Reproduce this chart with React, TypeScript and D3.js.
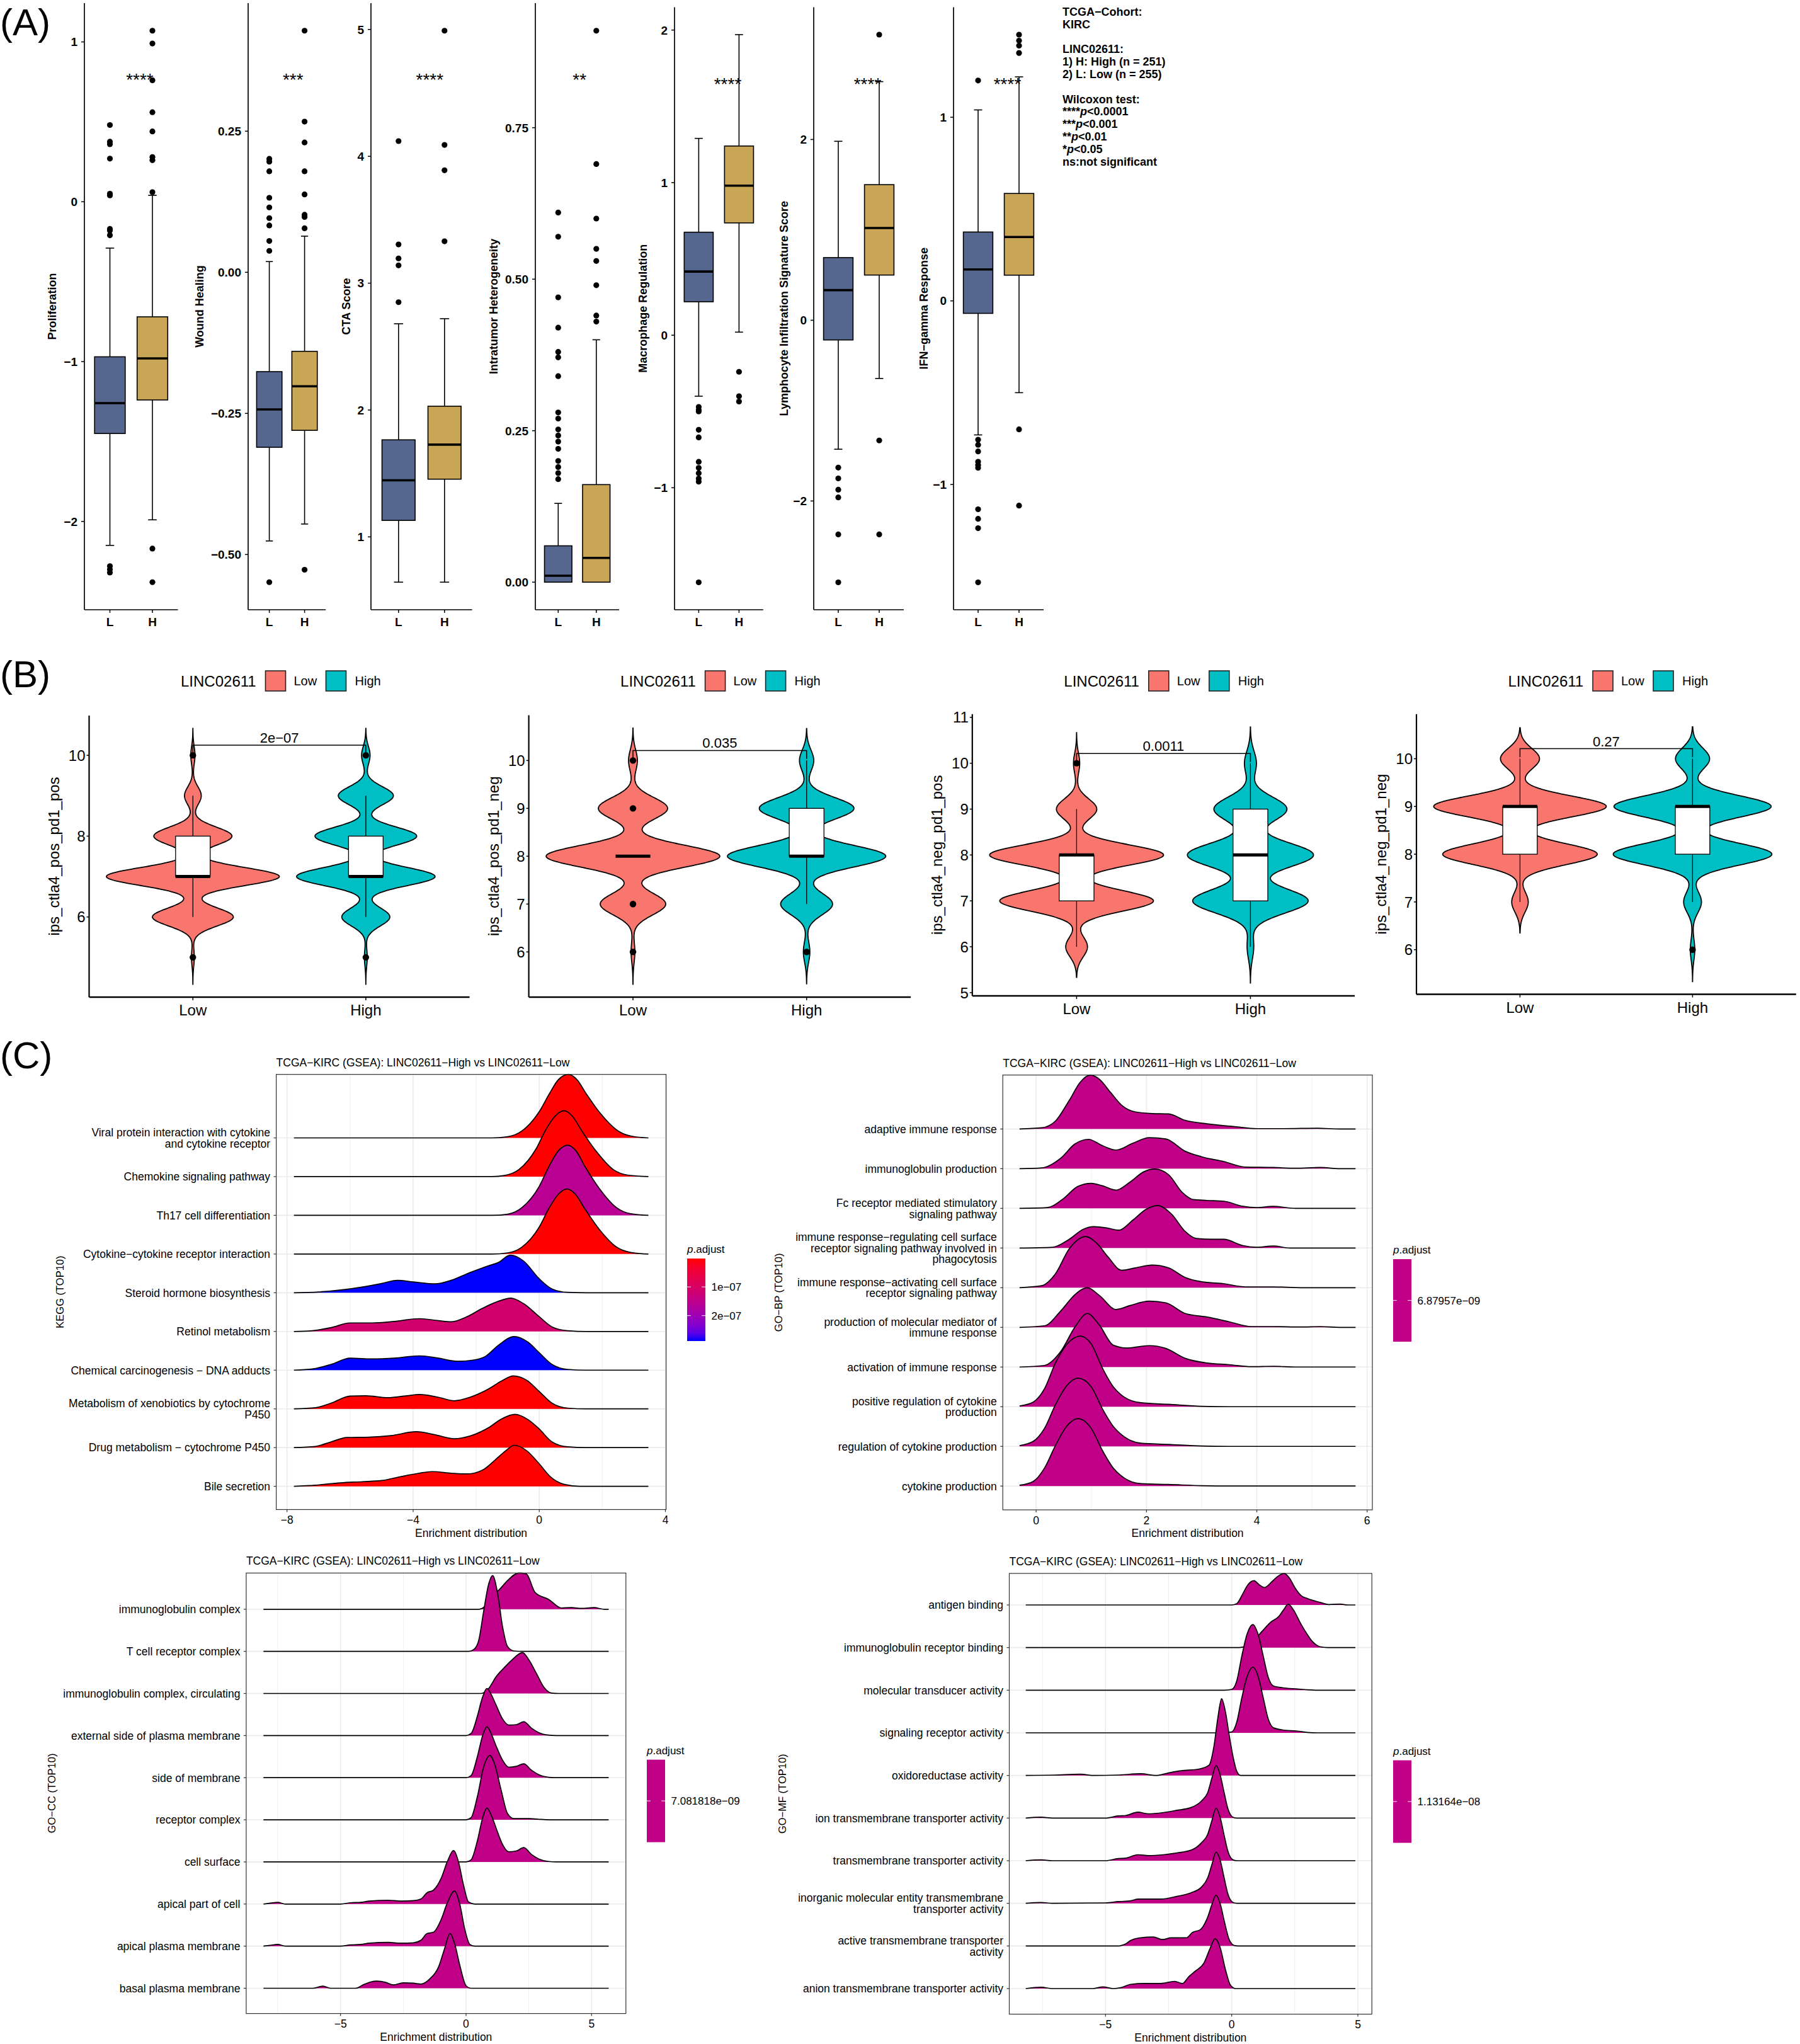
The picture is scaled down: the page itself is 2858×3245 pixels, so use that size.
import React from 'react';
import * as d3 from 'd3';

const FONT = "'Liberation Sans', Arial, Helvetica, sans-serif";
const MINUS = '\u2212';
const minus = (s: string) => s.replace(/-/g, MINUS);

// ---------------- (A) immune signature boxplots ----------------
const A_GROUPS = ['L', 'H'];
const A_TITLES = [
  'Proliferation',
  'Wound Healing',
  'CTA Score',
  'Intratumor Heterogeneity',
  'Macrophage Regulation',
  'Lymphocyte Infiltration Signature Score',
  'IFN-gamma Response',
];
const A_TICKS = [
  [1, 0, -1, -2],
  [0.25, 0, -0.25, -0.5],
  [5, 4, 3, 2, 1],
  [0.75, 0.5, 0.25, 0],
  [2, 1, 0, -1],
  [2, 0, -2],
  [1, 0, -1],
];
const A_TICK_FMT = ['d', '.2f', 'd', '.2f', 'd', 'd', 'd'];
const A_STARS = ['****', '***', '****', '**', '****', '****', '****'];
// whisker low, Q1, median, Q3, whisker high
const A_LOW_BOX = [
  [-2.15, -1.45, -1.26, -0.97, -0.29],
  [-0.476, -0.31, -0.243, -0.176, 0.019],
  [0.643, 1.13, 1.446, 1.765, 2.68],
  [0, 0, 0.0106, 0.06, 0.13],
  [-0.4, 0.219, 0.417, 0.675, 1.29],
  [-1.427, -0.218, 0.333, 0.693, 1.98],
  [-0.73, -0.068, 0.171, 0.375, 1.04],
];
const A_HIGH_BOX = [
  [-1.99, -1.24, -0.98, -0.72, 0.04],
  [-0.446, -0.28, -0.202, -0.14, 0.064],
  [0.643, 1.455, 1.727, 2.03, 2.72],
  [0, 0, 0.04, 0.161, 0.4],
  [0.02, 0.736, 0.98, 1.24, 1.97],
  [-0.644, 0.5, 1.02, 1.5, 2.64],
  [-0.5, 0.14, 0.348, 0.585, 1.22],
];
const A_LOW_OUT = [
  [0.48, 0.376, 0.36, 0.27, 0.05, 0.04, -0.17, -0.18, -0.21, -2.28, -2.3, -2.32],
  [0.201, 0.196, 0.179, 0.132, 0.115, 0.096, 0.083, 0.0555, 0.038, -0.549],
  [4.12, 3.305, 3.195, 3.14, 2.85],
  [0.61, 0.57, 0.47, 0.42, 0.38, 0.371, 0.34, 0.28, 0.27, 0.252, 0.242, 0.232, 0.22, 0.2, 0.19, 0.18, 0.17],
  [-0.47, -0.49, -0.5, -0.62, -0.67, -0.83, -0.87, -0.905, -0.94, -0.96, -1.62],
  [-1.63, -1.75, -1.875, -1.96, -2.37, -2.9],
  [1.2, -0.756, -0.784, -0.82, -0.876, -0.894, -0.909, -1.135, -1.187, -1.238, -1.533],
];
const A_HIGH_OUT = [
  [1.07, 0.99, 0.76, 0.56, 0.44, 0.28, 0.26, 0.06, -2.17, -2.38],
  [0.428, 0.267, 0.23, 0.179, 0.138, 0.102, 0.098, 0.078, -0.527],
  [4.99, 4.09, 3.89, 3.33],
  [0.91, 0.69, 0.6, 0.55, 0.53, 0.49, 0.44, 0.43],
  [-0.24, -0.4, -0.435],
  [3.16, -1.33, -2.37],
  [1.45, 1.417, 1.39, 1.35, -0.7, -1.115],
];
const A_NOTE = ['TCGA-Cohort:', 'KIRC', '', 'LINC02611:', '1) H: High (n = 251)', '2) L: Low (n = 255)', '', 'Wilcoxon test:'];
const A_SIG = [['****', '0.0001'], ['***', '0.001'], ['**', '0.01'], ['*', '0.05']];

// layout of (A)
const A_AXIS_X = [134, 394, 589, 850, 1071, 1292, 1514];
const A_STEP = [67.5, 56, 73, 60.5, 64, 65, 65];
const A_TOP = [5, 5, 5, 5, 11.5, 11.5, 11.5];
const A_BOTTOM = 968;
const A_TITLE_GAP = [51, 77, 39, 66, 50, 47, 47];
const A_FILL: Record<string, string> = { L: '#55678F', H: '#C8A655' };

// ---------------- (B) IPS violins ----------------
const B_GROUPS = ['Low', 'High'];
const B_SCORES = [5, 6, 7, 8, 9, 10];
const B_LOW_COUNTS = [
  [2, 58, 124, 56, 12, 3],
  [0, 3, 52, 138, 55, 7],
  [0, 14, 99, 112, 26, 4],
  [0, 0, 11, 103, 115, 26],
];
const B_HIGH_COUNTS = [
  [2, 34, 98, 72, 39, 6],
  [0, 5, 40, 122, 73, 11],
  [0, 5, 87, 95, 55, 9],
  [0, 3, 12, 107, 106, 23],
];
const B_TITLES = ['ips_ctla4_pos_pd1_pos', 'ips_ctla4_pos_pd1_neg', 'ips_ctla4_neg_pd1_pos', 'ips_ctla4_neg_pd1_neg'];
const B_TICKS = [[6, 8, 10], [6, 7, 8, 9, 10], [5, 6, 7, 8, 9, 10, 11], [6, 7, 8, 9, 10]];
const B_PVAL = ['2e-07', '0.035', '0.0011', '0.27'];
const B_BRACKET = [10.25, 10.21, 10.21, 10.21];

const B_AXIS_X = [141.5, 839.6, 1543.8, 2249];
const B_STEP = [274.6, 275.7, 276, 274];
const B_TOP = [1136, 1135.6, 1133.7, 1133.7];
const B_BOTTOM = [1583, 1583, 1581, 1578.5];
const B_FILL: Record<string, string> = { Low: '#F8766D', High: '#00BFC4' };

// ---------------- (C) GSEA ridge plots ----------------
type Pt = [number, number];

const KEGG_TERMS = [
  'Viral protein interaction with cytokine\nand cytokine receptor',
  'Chemokine signaling pathway',
  'Th17 cell differentiation',
  'Cytokine-cytokine receptor interaction',
  'Steroid hormone biosynthesis',
  'Retinol metabolism',
  'Chemical carcinogenesis - DNA adducts',
  'Metabolism of xenobiotics by cytochrome\nP450',
  'Drug metabolism - cytochrome P450',
  'Bile secretion',
];
const KEGG_P = [1e-9, 1e-9, 1.59e-7, 1e-9, 2.886e-7, 1.1e-7, 2.886e-7, 1e-9, 1e-9, 1e-9];
const KEGG_RANGE = [-7.78, 3.46];
const KEGG_RIDGES: Pt[][] = [
  [[-1.5, 0], [-1.0, 0.03], [-0.55, 0.18], [0, 0.68], [0.32, 1.14], [0.6, 1.5], [0.93, 1.64], [1.2, 1.5], [1.49, 1.14], [1.93, 0.64], [2.5, 0.18], [2.95, 0.04], [3.46, 0]],
  [[-1.5, 0], [-1.1, 0.03], [-0.65, 0.18], [-0.1, 0.72], [0.2, 1.2], [0.5, 1.56], [0.79, 1.7], [1.05, 1.56], [1.35, 1.18], [1.8, 0.66], [2.35, 0.18], [2.8, 0.04], [3.46, 0]],
  [[-1.5, 0], [-1.0, 0.03], [-0.55, 0.2], [0, 0.75], [0.3, 1.25], [0.6, 1.66], [0.9, 1.81], [1.17, 1.66], [1.45, 1.26], [1.9, 0.7], [2.45, 0.2], [2.9, 0.04], [3.46, 0]],
  [[-1.5, 0], [-1.0, 0.03], [-0.55, 0.18], [0, 0.7], [0.3, 1.17], [0.6, 1.54], [0.88, 1.68], [1.15, 1.54], [1.45, 1.16], [1.9, 0.64], [2.45, 0.18], [2.9, 0.04], [3.46, 0]],
  [[-7.78, 0], [-7, 0.02], [-6.2, 0.08], [-5.6, 0.15], [-5, 0.24], [-4.5, 0.32], [-4, 0.28], [-3.3, 0.23], [-2.8, 0.32], [-2.2, 0.52], [-1.6, 0.7], [-1.3, 0.78], [-0.92, 0.97], [-0.5, 0.82], [0, 0.36], [0.4, 0.1], [0.9, 0.01], [1.5, 0]],
  [[-7.78, 0], [-7.2, 0.02], [-6.6, 0.1], [-6, 0.22], [-5.3, 0.22], [-4.6, 0.26], [-3.8, 0.33], [-3.2, 0.28], [-2.8, 0.25], [-2.3, 0.38], [-1.8, 0.6], [-1.3, 0.78], [-0.9, 0.86], [-0.5, 0.72], [0, 0.38], [0.4, 0.12], [0.9, 0.02], [1.5, 0]],
  [[-7.78, 0], [-7.2, 0.03], [-6.6, 0.15], [-6, 0.31], [-5.3, 0.29], [-4.6, 0.31], [-3.8, 0.37], [-3.2, 0.31], [-2.6, 0.23], [-2.1, 0.26], [-1.7, 0.36], [-1.3, 0.64], [-0.8, 0.87], [-0.35, 0.72], [0, 0.45], [0.4, 0.15], [0.9, 0.02], [1.5, 0]],
  [[-7.78, 0], [-7.1, 0.03], [-6.6, 0.15], [-6, 0.33], [-5.5, 0.34], [-4.8, 0.29], [-4.2, 0.34], [-3.8, 0.37], [-3.2, 0.3], [-2.7, 0.21], [-2.2, 0.3], [-1.6, 0.52], [-1.2, 0.72], [-0.82, 0.85], [-0.4, 0.74], [0, 0.45], [0.4, 0.15], [0.9, 0.02], [1.5, 0]],
  [[-7.78, 0], [-7.1, 0.03], [-6.6, 0.15], [-6.1, 0.26], [-5.4, 0.27], [-4.7, 0.31], [-3.9, 0.41], [-3.3, 0.33], [-2.7, 0.23], [-2.2, 0.3], [-1.6, 0.52], [-1.2, 0.74], [-0.77, 0.86], [-0.35, 0.72], [0, 0.48], [0.4, 0.15], [0.9, 0.02], [1.5, 0]],
  [[-7.78, 0], [-7.1, 0.03], [-6.3, 0.09], [-5.6, 0.12], [-5, 0.15], [-4.4, 0.25], [-3.8, 0.34], [-3.4, 0.38], [-2.8, 0.34], [-2.3, 0.32], [-1.8, 0.42], [-1.4, 0.68], [-1.0, 0.96], [-0.8, 1.06], [-0.4, 0.92], [0, 0.58], [0.35, 0.25], [0.8, 0.05], [1.3, 0]],
];

const BP_TERMS = [
  'adaptive immune response',
  'immunoglobulin production',
  'Fc receptor mediated stimulatory\nsignaling pathway',
  'immune response-regulating cell surface\nreceptor signaling pathway involved in\nphagocytosis',
  'immune response-activating cell surface\nreceptor signaling pathway',
  'production of molecular mediator of\nimmune response',
  'activation of immune response',
  'positive regulation of cytokine\nproduction',
  'regulation of cytokine production',
  'cytokine production',
];
const BP_P = [6.87957e-9];
const BP_RANGE = [-0.3, 5.79];
const BP_RIDGES: Pt[][] = [
  [[-0.3, 0], [0.1, 0.03], [0.35, 0.2], [0.6, 0.72], [0.8, 1.18], [0.98, 1.36], [1.15, 1.25], [1.35, 0.92], [1.55, 0.6], [1.8, 0.43], [2.1, 0.39], [2.4, 0.38], [2.7, 0.22], [3.1, 0.13], [3.6, 0.06], [4.0, 0.01], [4.5, 0.01], [5.1, 0.02], [5.5, 0]],
  [[-0.3, 0], [0.1, 0.02], [0.45, 0.27], [0.7, 0.62], [0.95, 0.74], [1.2, 0.58], [1.45, 0.47], [1.75, 0.64], [2.05, 0.78], [2.35, 0.75], [2.7, 0.44], [3.0, 0.3], [3.4, 0.18], [3.8, 0.04], [4.3, 0.03], [4.7, 0.01], [5.15, 0.03], [5.5, 0]],
  [[-0.3, 0], [0.2, 0.02], [0.5, 0.25], [0.75, 0.55], [1.0, 0.63], [1.2, 0.57], [1.45, 0.46], [1.7, 0.66], [1.95, 0.92], [2.15, 0.99], [2.4, 0.85], [2.65, 0.4], [2.85, 0.22], [3.1, 0.2], [3.4, 0.18], [3.75, 0.05], [4.0, 0.02], [4.3, 0.05], [4.7, 0]],
  [[-0.3, 0], [0.3, 0.02], [0.6, 0.22], [0.85, 0.47], [1.05, 0.54], [1.3, 0.5], [1.5, 0.45], [1.75, 0.7], [2.0, 0.98], [2.2, 1.07], [2.45, 0.86], [2.7, 0.42], [2.9, 0.24], [3.2, 0.22], [3.4, 0.22], [3.75, 0.06], [4.0, 0.02], [4.3, 0.05], [4.6, 0]],
  [[-0.3, 0], [0.1, 0.05], [0.35, 0.35], [0.6, 0.98], [0.9, 1.29], [1.1, 1.12], [1.3, 0.78], [1.55, 0.44], [1.8, 0.5], [2.1, 0.57], [2.4, 0.5], [2.7, 0.26], [3.0, 0.15], [3.4, 0.1], [3.8, 0.02], [4.3, 0.02], [4.8, 0]],
  [[-0.3, 0], [0.15, 0.04], [0.45, 0.42], [0.7, 0.82], [0.93, 1.0], [1.15, 0.8], [1.45, 0.45], [1.7, 0.55], [2.05, 0.66], [2.35, 0.62], [2.7, 0.35], [3.1, 0.26], [3.5, 0.14], [3.9, 0.02], [4.3, 0.02], [4.8, 0.01], [5.15, 0.02], [5.5, 0]],
  [[-0.3, 0], [0.15, 0.04], [0.45, 0.4], [0.7, 1.0], [0.93, 1.35], [1.15, 1.05], [1.4, 0.55], [1.65, 0.48], [2.05, 0.54], [2.35, 0.47], [2.7, 0.22], [3.1, 0.1], [3.5, 0.06], [3.9, 0.01], [4.3, 0.02], [4.7, 0]],
  [[-0.3, 0.02], [-0.05, 0.12], [0.15, 0.45], [0.35, 1.1], [0.55, 1.56], [0.8, 1.78], [1.0, 1.58], [1.2, 0.98], [1.4, 0.5], [1.6, 0.24], [1.9, 0.1], [2.4, 0.06], [3.0, 0.01], [3.5, 0]],
  [[-0.3, 0.02], [-0.05, 0.13], [0.15, 0.45], [0.35, 1.05], [0.55, 1.52], [0.76, 1.72], [1.0, 1.5], [1.2, 0.95], [1.4, 0.5], [1.6, 0.24], [1.9, 0.08], [2.4, 0.05], [3.0, 0.01], [3.5, 0]],
  [[-0.3, 0.02], [-0.05, 0.12], [0.15, 0.45], [0.35, 1.02], [0.55, 1.5], [0.76, 1.7], [1.0, 1.45], [1.2, 0.9], [1.4, 0.45], [1.6, 0.2], [1.9, 0.06], [2.4, 0.04], [3.0, 0.01], [3.5, 0]],
];

const CC_TERMS = [
  'immunoglobulin complex',
  'T cell receptor complex',
  'immunoglobulin complex, circulating',
  'external side of plasma membrane',
  'side of membrane',
  'receptor complex',
  'cell surface',
  'apical part of cell',
  'apical plasma membrane',
  'basal plasma membrane',
];
const CC_P = [7.081818e-9];
const CC_RANGE = [-8.07, 5.68];
const CC_RIDGES: Pt[][] = [
  [[0.5, 0], [0.8, 0.1], [1.0, 0.3], [1.3, 0.45], [1.65, 0.68], [2.1, 0.86], [2.4, 0.84], [2.75, 0.4], [3.3, 0.23], [3.8, 0.03], [4.2, 0.04], [4.6, 0.02], [5.1, 0.04], [5.5, 0]],
  [[0.1, 0], [0.3, 0.04], [0.5, 0.25], [0.7, 0.95], [0.9, 1.6], [1.06, 1.8], [1.25, 1.4], [1.45, 0.6], [1.65, 0.12], [1.9, 0.01], [2.2, 0]],
  [[0.6, 0], [0.9, 0.12], [1.2, 0.4], [1.5, 0.6], [1.8, 0.78], [2.25, 0.97], [2.5, 0.8], [2.8, 0.48], [3.1, 0.15], [3.4, 0.01], [3.7, 0]],
  [[0, 0], [0.2, 0.05], [0.45, 0.46], [0.65, 0.9], [0.83, 1.12], [1.0, 0.98], [1.2, 0.72], [1.45, 0.4], [1.7, 0.25], [2.0, 0.26], [2.3, 0.33], [2.6, 0.18], [2.9, 0.07], [3.3, 0.01], [3.6, 0]],
  [[0, 0], [0.2, 0.05], [0.45, 0.5], [0.65, 0.98], [0.83, 1.21], [1.0, 1.05], [1.2, 0.75], [1.45, 0.42], [1.7, 0.25], [2.0, 0.27], [2.3, 0.33], [2.6, 0.18], [2.9, 0.07], [3.3, 0.01], [3.6, 0]],
  [[0, 0], [0.2, 0.05], [0.45, 0.55], [0.7, 1.25], [0.95, 1.53], [1.15, 1.3], [1.4, 0.7], [1.65, 0.15], [1.9, 0.03], [2.5, 0.03], [3.0, 0.01], [3.4, 0]],
  [[0, 0], [0.2, 0.05], [0.45, 0.5], [0.65, 1.02], [0.83, 1.28], [1.0, 1.12], [1.2, 0.8], [1.45, 0.42], [1.7, 0.24], [2.0, 0.26], [2.3, 0.34], [2.6, 0.18], [2.9, 0.07], [3.3, 0.01], [3.6, 0]],
  [[-8.07, 0], [-7.8, 0.02], [-7.5, 0.04], [-7.2, 0], [-5, 0], [-4.6, 0.03], [-4.2, 0.04], [-3.85, 0.07], [-3.1, 0.09], [-2.6, 0.07], [-2.1, 0.08], [-1.8, 0.12], [-1.55, 0.27], [-1.3, 0.33], [-1.0, 0.6], [-0.75, 1.0], [-0.5, 1.27], [-0.3, 1.0], [-0.1, 0.45], [0.1, 0.05], [0.35, 0]],
  [[-8.07, 0], [-7.8, 0.02], [-7.5, 0.04], [-7.2, 0], [-5, 0], [-4.6, 0.03], [-4.2, 0.04], [-3.85, 0.07], [-3.1, 0.09], [-2.6, 0.07], [-2.1, 0.08], [-1.8, 0.14], [-1.55, 0.3], [-1.3, 0.33], [-1.0, 0.62], [-0.75, 1.02], [-0.46, 1.31], [-0.25, 1.0], [-0.05, 0.4], [0.15, 0.04], [0.35, 0]],
  [[-8.07, 0], [-6.1, 0], [-5.7, 0.05], [-5.4, 0], [-4.4, 0], [-4.1, 0.08], [-3.8, 0.15], [-3.55, 0.17], [-3.2, 0.14], [-2.9, 0.08], [-2.5, 0.13], [-2.1, 0.12], [-1.8, 0.1], [-1.45, 0.22], [-1.1, 0.5], [-0.85, 0.95], [-0.64, 1.3], [-0.45, 1.05], [-0.25, 0.55], [0, 0.06], [0.2, 0]],
];

const MF_TERMS = [
  'antigen binding',
  'immunoglobulin receptor binding',
  'molecular transducer activity',
  'signaling receptor activity',
  'oxidoreductase activity',
  'ion transmembrane transporter activity',
  'transmembrane transporter activity',
  'inorganic molecular entity transmembrane\ntransporter activity',
  'active transmembrane transporter\nactivity',
  'anion transmembrane transporter activity',
];
const MF_P = [1.13164e-8];
const MF_RANGE = [-8.16, 4.9];
const MF_RIDGES: Pt[][] = [
  [[0, 0], [0.2, 0.03], [0.4, 0.22], [0.65, 0.48], [0.88, 0.57], [1.1, 0.47], [1.3, 0.41], [1.6, 0.55], [1.8, 0.66], [2.08, 0.74], [2.3, 0.62], [2.5, 0.41], [2.75, 0.22], [3.0, 0.15], [3.5, 0.06], [3.85, 0.01], [4.3, 0.02], [4.6, 0]],
  [[0.3, 0], [0.6, 0.05], [0.9, 0.18], [1.2, 0.38], [1.55, 0.6], [1.85, 0.72], [2.05, 0.88], [2.24, 1.02], [2.45, 0.88], [2.7, 0.6], [2.95, 0.35], [3.2, 0.14], [3.5, 0.02], [3.8, 0]],
  [[-0.3, 0], [0, 0.02], [0.2, 0.22], [0.4, 0.8], [0.6, 1.3], [0.84, 1.54], [1.05, 1.3], [1.25, 0.8], [1.45, 0.3], [1.65, 0.1], [2.0, 0.06], [2.6, 0.03], [3.0, 0.01], [3.4, 0]],
  [[-0.3, 0], [0, 0.02], [0.2, 0.25], [0.4, 0.82], [0.6, 1.3], [0.84, 1.54], [1.05, 1.32], [1.25, 0.82], [1.45, 0.32], [1.65, 0.12], [2.0, 0.07], [2.6, 0.04], [3.0, 0.01], [3.4, 0]],
  [[-8.16, 0], [-7, 0.01], [-6.0, 0.03], [-5.5, 0], [-4.5, 0.01], [-3.6, 0.04], [-3.0, 0], [-2.5, 0.06], [-2.0, 0.11], [-1.3, 0.15], [-0.9, 0.24], [-0.7, 0.7], [-0.55, 1.35], [-0.4, 1.8], [-0.25, 1.5], [-0.1, 0.95], [0.05, 0.45], [0.2, 0.1], [0.35, 0]],
  [[-8.16, 0], [-7.55, 0.02], [-7.1, 0], [-5.0, 0], [-4.5, 0.05], [-4.2, 0.06], [-3.72, 0.14], [-3.3, 0.1], [-2.7, 0.13], [-2.2, 0.18], [-1.6, 0.25], [-1.2, 0.4], [-0.95, 0.6], [-0.78, 0.95], [-0.62, 1.23], [-0.45, 1.0], [-0.3, 0.6], [-0.15, 0.22], [0.05, 0.02], [0.2, 0]],
  [[-8.16, 0], [-7.55, 0.02], [-7.1, 0], [-5.0, 0], [-4.5, 0.05], [-4.2, 0.06], [-3.72, 0.14], [-3.3, 0.12], [-2.7, 0.14], [-2.2, 0.18], [-1.6, 0.25], [-1.2, 0.42], [-0.95, 0.62], [-0.78, 0.95], [-0.62, 1.23], [-0.45, 1.0], [-0.3, 0.6], [-0.15, 0.22], [0.05, 0.02], [0.2, 0]],
  [[-8.16, 0], [-7.55, 0.02], [-7.1, 0], [-5.0, 0.01], [-4.5, 0.04], [-4.0, 0.06], [-3.7, 0.1], [-3.3, 0.1], [-2.8, 0.1], [-2.2, 0.16], [-1.6, 0.25], [-1.2, 0.38], [-0.95, 0.6], [-0.78, 0.92], [-0.62, 1.2], [-0.45, 1.0], [-0.3, 0.6], [-0.15, 0.22], [0.05, 0.02], [0.2, 0]],
  [[-8.16, 0], [-4.5, 0], [-4.2, 0.05], [-4.0, 0.13], [-3.65, 0.19], [-3.1, 0.21], [-2.75, 0.15], [-2.4, 0.19], [-1.8, 0.19], [-1.55, 0.32], [-1.25, 0.38], [-0.95, 0.68], [-0.78, 0.98], [-0.62, 1.19], [-0.45, 0.98], [-0.3, 0.6], [-0.1, 0.15], [0.1, 0.01], [0.25, 0]],
  [[-8.16, 0], [-7.55, 0.03], [-7.1, 0], [-5.5, 0], [-5.1, 0.04], [-4.7, 0], [-4.4, 0.02], [-4.0, 0.1], [-3.45, 0.12], [-2.8, 0.12], [-2.26, 0.17], [-1.95, 0.12], [-1.7, 0.28], [-1.44, 0.41], [-1.1, 0.6], [-0.85, 0.95], [-0.66, 1.17], [-0.45, 0.95], [-0.25, 0.45], [-0.05, 0.08], [0.15, 0]],
];

const C_TITLE = 'TCGA-KIRC (GSEA): LINC02611-High vs LINC02611-Low';

const C_SPECS = [
  { id: 'kegg', terms: KEGG_TERMS, pvals: KEGG_P, ridges: KEGG_RIDGES, range: KEGG_RANGE, major: [-8, -4, 0, 4], minor: [-6, -2, 2], yTitle: 'KEGG (TOP10)',
    box: { left: 438.6, right: 1057.6, top: 1705.7, bottom: 2396.5 }, yTitleX: 95, legendX: 1091, legendTop: 1998 },
  { id: 'bp', terms: BP_TERMS, pvals: BP_P, ridges: BP_RIDGES, range: BP_RANGE, major: [0, 2, 4, 6], minor: [1, 3, 5], yTitle: 'GO-BP (TOP10)',
    box: { left: 1592.2, right: 2179, top: 1706.7, bottom: 2397 }, yTitleX: 1236, legendX: 2212, legendTop: 1999 },
  { id: 'cc', terms: CC_TERMS, pvals: CC_P, ridges: CC_RIDGES, range: CC_RANGE, major: [-5, 0, 5], minor: [-7.5, -2.5, 2.5], yTitle: 'GO-CC (TOP10)',
    box: { left: 390.9, right: 993.8, top: 2497.3, bottom: 3196.6 }, yTitleX: 82, legendX: 1027, legendTop: 2793.6 },
  { id: 'mf', terms: MF_TERMS, pvals: MF_P, ridges: MF_RIDGES, range: MF_RANGE, major: [-5, 0, 5], minor: [-7.5, -2.5, 2.5], yTitle: 'GO-MF (TOP10)',
    box: { left: 1602.5, right: 2178.2, top: 2497.9, bottom: 3197.6 }, yTitleX: 1241.7, legendX: 2212, legendTop: 2794.6 },
];

// ---------------- helpers ----------------
function pFmt(v: number) {
  const s = d3.format('.6~e')(v);
  const m = s.match(/^(.*)e([+\-\u2212])(\d+)$/);
  if (!m) return s;
  const sign = m[2] === '+' ? '+' : MINUS;
  return `${m[1]}e${sign}${m[3].padStart(2, '0')}`;
}

function nrd0(sorted: number[]) {
  const n = sorted.length;
  const sd = d3.deviation(sorted) || 0;
  const iqr = (d3.quantileSorted(sorted, 0.75) as number) - (d3.quantileSorted(sorted, 0.25) as number);
  let lo = Math.min(sd, iqr / 1.34);
  if (!(lo > 0)) lo = sd || Math.abs(sorted[0]) || 1;
  return 0.9 * lo * Math.pow(n, -0.2);
}

// ---------------- (A) component ----------------
function BoxPlotA({ i }: { i: number }) {
  const x0 = A_AXIS_X[i];
  const step = A_STEP[i];
  const top = A_TOP[i];
  const width = 2.2 * step;
  const x = d3.scalePoint<string>().domain(A_GROUPS).range([x0, x0 + width]).padding(0.6);
  const boxes = [A_LOW_BOX[i], A_HIGH_BOX[i]];
  const outs = [A_LOW_OUT[i], A_HIGH_OUT[i]];
  const [lo, hi] = d3.extent([...boxes.flat(), ...outs.flat()]) as [number, number];
  const pad = (hi - lo) * 0.05;
  const y = d3.scaleLinear().domain([lo - pad, hi + pad]).range([A_BOTTOM, top]);
  const fmt = d3.format(A_TICK_FMT[i]);
  const bw = step * 0.72;
  const cap = step * 0.2;
  const midY = (top + A_BOTTOM) / 2;
  const tx = x0 - A_TITLE_GAP[i];
  return (
    <g>
      <line x1={x0} x2={x0} y1={top} y2={A_BOTTOM} stroke="#000" strokeWidth={1.7} />
      <line x1={x0} x2={x0 + width} y1={A_BOTTOM} y2={A_BOTTOM} stroke="#000" strokeWidth={1.7} />
      {A_TICKS[i].map((t) => (
        <g key={t}>
          <line x1={x0 - 5} x2={x0} y1={y(t)} y2={y(t)} stroke="#000" strokeWidth={1.5} />
          <text x={x0 - 11} y={y(t)} dy="0.36em" textAnchor="end" fontSize={19} fontWeight="bold">
            {minus(fmt(t))}
          </text>
        </g>
      ))}
      {A_GROUPS.map((g) => (
        <g key={g}>
          <line x1={x(g)} x2={x(g)} y1={A_BOTTOM} y2={A_BOTTOM + 5} stroke="#000" strokeWidth={1.5} />
          <text x={x(g)} y={A_BOTTOM + 26} textAnchor="middle" fontSize={19} fontWeight="bold">{g}</text>
        </g>
      ))}
      <text transform={`translate(${tx},${midY}) rotate(-90)`} dy="0.36em" textAnchor="middle" fontSize={18} fontWeight="bold">
        {minus(A_TITLES[i])}
      </text>
      {A_GROUPS.map((g, k) => {
        const [wl, q1, md, q3, wh] = boxes[k];
        const cx = x(g) as number;
        return (
          <g key={g}>
            <line x1={cx} x2={cx} y1={y(q3)} y2={y(wh)} stroke="#000" strokeWidth={1.6} />
            <line x1={cx} x2={cx} y1={y(q1)} y2={y(wl)} stroke="#000" strokeWidth={1.6} />
            <line x1={cx - cap / 2} x2={cx + cap / 2} y1={y(wh)} y2={y(wh)} stroke="#000" strokeWidth={1.6} />
            <line x1={cx - cap / 2} x2={cx + cap / 2} y1={y(wl)} y2={y(wl)} stroke="#000" strokeWidth={1.6} />
            <rect x={cx - bw / 2} y={y(q3)} width={bw} height={Math.max(0.5, y(q1) - y(q3))} fill={A_FILL[g]} stroke="#000" strokeWidth={1.6} />
            <line x1={cx - bw / 2} x2={cx + bw / 2} y1={y(md)} y2={y(md)} stroke="#000" strokeWidth={3.6} />
            {outs[k].map((v, j) => (
              <circle key={j} cx={cx} cy={y(v)} r={4.6} fill="#000" />
            ))}
          </g>
        );
      })}
      <text x={(x('L') as number) + 0.38 * step} y={top + 131} fontSize={28}>{A_STARS[i]}</text>
    </g>
  );
}

function NoteA() {
  const x = 1687;
  const y0 = 25;
  const lh = 19.8;
  return (
    <g fontSize={18} fontWeight="bold">
      {A_NOTE.map((s, k) => (s ? <text key={k} x={x} y={y0 + k * lh}>{minus(s)}</text> : null))}
      {A_SIG.map(([st, v], k) => (
        <text key={`s${k}`} x={x} y={y0 + (A_NOTE.length + k) * lh}>
          {st}
          <tspan fontStyle="italic">p</tspan>
          {'<' + v}
        </text>
      ))}
      <text x={x} y={y0 + (A_NOTE.length + A_SIG.length) * lh}>ns:not significant</text>
    </g>
  );
}

// ---------------- (B) component ----------------
function ViolinPlotB({ i }: { i: number }) {
  const x0 = B_AXIS_X[i];
  const step = B_STEP[i];
  const top = B_TOP[i];
  const bottom = B_BOTTOM[i];
  const width = 2.2 * step;
  const x = d3.scalePoint<string>().domain(B_GROUPS).range([x0, x0 + width]).padding(0.6);

  const groups = [B_LOW_COUNTS[i], B_HIGH_COUNTS[i]].map((counts) => {
    const vals = B_SCORES.flatMap((s, k) => d3.range(counts[k]).map(() => s));
    vals.sort(d3.ascending);
    const bw = nrd0(vals);
    const lo = vals[0] - 3 * bw;
    const hi = vals[vals.length - 1] + 3 * bw;
    const n = vals.length;
    const grid = d3.range(512).map((k) => lo + ((hi - lo) * k) / 511);
    const dens = grid.map((v) => {
      let s = 0;
      B_SCORES.forEach((sc, k) => {
        const z = (v - sc) / bw;
        s += counts[k] * Math.exp(-0.5 * z * z);
      });
      return s / (n * bw * Math.sqrt(2 * Math.PI));
    });
    const q1 = d3.quantileSorted(vals, 0.25) as number;
    const md = d3.quantileSorted(vals, 0.5) as number;
    const q3 = d3.quantileSorted(vals, 0.75) as number;
    const iqr = q3 - q1;
    const wl = d3.min(vals.filter((v) => v >= q1 - 1.5 * iqr)) as number;
    const wh = d3.max(vals.filter((v) => v <= q3 + 1.5 * iqr)) as number;
    const outs = Array.from(new Set(vals.filter((v) => v < wl || v > wh)));
    return { lo, hi, grid, dens, q1, md, q3, wl, wh, outs };
  });

  const lo = d3.min(groups, (g) => g.lo) as number;
  const hi = d3.max(groups, (g) => g.hi) as number;
  const pad = (hi - lo) * 0.05;
  const y = d3.scaleLinear().domain([lo - pad, hi + pad]).range([bottom, top]);
  const maxD = d3.max(groups, (g) => d3.max(g.dens)) as number;
  const half = 0.5 * step;
  const boxW = 0.2 * step;
  const midY = (top + bottom) / 2;
  const by = y(B_BRACKET[i]);
  const tip = 0.03 * (y.domain()[1] - y.domain()[0]);
  const xl = x('Low') as number;
  const xh = x('High') as number;

  return (
    <g>
      {/* legend */}
      <g>
        <text x={x0 + 145.5} y={1081} dy="0.36em" fontSize={24}>LINC02611</text>
        <rect x={x0 + 280} y={1065} width={32} height={32} fill={B_FILL.Low} stroke="#222" strokeWidth={1.6} />
        <text x={x0 + 325} y={1081} dy="0.36em" fontSize={20}>Low</text>
        <rect x={x0 + 376} y={1065} width={32} height={32} fill={B_FILL.High} stroke="#222" strokeWidth={1.6} />
        <text x={x0 + 422} y={1081} dy="0.36em" fontSize={20}>High</text>
      </g>
      <line x1={x0} x2={x0} y1={top} y2={bottom} stroke="#000" strokeWidth={2.2} />
      <line x1={x0} x2={x0 + width} y1={bottom} y2={bottom} stroke="#000" strokeWidth={2.6} />
      {B_TICKS[i].map((t) => (
        <g key={t}>
          <line x1={x0 - 4} x2={x0} y1={y(t)} y2={y(t)} stroke="#000" strokeWidth={1.5} />
          <text x={x0 - 6} y={y(t)} dy="0.36em" textAnchor="end" fontSize={24}>{t}</text>
        </g>
      ))}
      {B_GROUPS.map((g) => (
        <g key={g}>
          <line x1={x(g)} x2={x(g)} y1={bottom} y2={bottom + 5} stroke="#000" strokeWidth={1.5} />
          <text x={x(g)} y={bottom + 29} textAnchor="middle" fontSize={24}>{g}</text>
        </g>
      ))}
      <text transform={`translate(${x0 - 56.5},${midY}) rotate(-90)`} dy="0.36em" textAnchor="middle" fontSize={24}>
        {B_TITLES[i]}
      </text>
      {B_GROUPS.map((g, k) => {
        const G = groups[k];
        const cx = x(g) as number;
        const pts = G.grid.map((v, j) => [v, G.dens[j]] as [number, number]);
        const area = d3
          .area<[number, number]>()
          .y((d) => y(d[0]))
          .x0((d) => cx - (d[1] / maxD) * half)
          .x1((d) => cx + (d[1] / maxD) * half);
        return (
          <g key={g}>
            <path d={area(pts) as string} fill={B_FILL[g]} stroke="#000" strokeWidth={1.8} />
            <line x1={cx} x2={cx} y1={y(G.q3)} y2={y(G.wh)} stroke="#000" strokeWidth={1.3} />
            <line x1={cx} x2={cx} y1={y(G.q1)} y2={y(G.wl)} stroke="#000" strokeWidth={1.3} />
            {G.q3 > G.q1 && (
              <rect x={cx - boxW / 2} y={y(G.q3)} width={boxW} height={y(G.q1) - y(G.q3)} fill="#fff" stroke="#000" strokeWidth={1.3} />
            )}
            <line x1={cx - boxW / 2} x2={cx + boxW / 2} y1={y(G.md)} y2={y(G.md)} stroke="#000" strokeWidth={5} />
            {G.outs.map((v) => (
              <circle key={v} cx={cx} cy={y(v)} r={5.2} fill="#000" />
            ))}
          </g>
        );
      })}
      <path
        d={`M${xl},${y(B_BRACKET[i] - tip)}V${by}H${xh}V${y(B_BRACKET[i] - tip)}`}
        fill="none"
        stroke="#000"
        strokeWidth={1.5}
      />
      <text x={(xl + xh) / 2} y={by - 4} textAnchor="middle" fontSize={22}>{minus(B_PVAL[i])}</text>
    </g>
  );
}

// ---------------- (C) component ----------------
function RidgePlot({ spec }: { spec: any }) {
  const { id, terms, pvals, ridges, range, major, minor, yTitle, box, yTitleX, legendX, legendTop } = spec;
  const n = terms.length;
  const full: Pt[][] = ridges.map((r: Pt[]) => {
    let pts = r.slice();
    if (pts[0][0] > range[0]) pts = [[range[0], 0] as Pt, ...pts];
    if (pts[pts.length - 1][0] < range[1]) pts.push([range[1], 0]);
    return pts;
  });
  const span = range[1] - range[0];
  const x = d3.scaleLinear().domain([range[0] - 0.05 * span, range[1] + 0.05 * span]).range([box.left, box.right]);
  const pos = (k: number) => n - k;
  const topVal = Math.max(n + 0.6, d3.max(full, (r, k) => pos(k) + (d3.max(r, (p) => p[1]) as number)) as number);
  const y = d3.scaleLinear().domain([0.4, topVal]).range([box.bottom, box.top]);
  const unit = y(0) - y(1);
  const pExt = d3.extent(pvals as number[]) as [number, number];
  const color = d3
    .scaleLinear<string>()
    .domain(pExt)
    .range(['#FF0000', '#0000FF'])
    .interpolate(d3.interpolateLab);
  const pOf = (k: number) => (pvals.length === 1 ? pvals[0] : pvals[k]);

  const fs = 17.5;
  const lh = 17.8;
  const barW = 29;
  const barH = 131;
  const single = pExt[0] === pExt[1];
  const legTicks = single ? [pExt[0]] : d3.ticks(pExt[0], pExt[1], 3);
  const tickY = (t: number) => (single ? legendTop + barH / 2 : legendTop + ((t - pExt[0]) / (pExt[1] - pExt[0])) * barH);

  return (
    <g>
      <text x={box.left} y={box.top - 19.5} dy="0.36em" fontSize={fs}>{minus(C_TITLE)}</text>
      <rect x={box.left} y={box.top} width={box.right - box.left} height={box.bottom - box.top} fill="#fff" />
      {minor.map((t: number) => (
        <line key={`m${t}`} x1={x(t)} x2={x(t)} y1={box.top} y2={box.bottom} stroke="#EBEBEB" strokeWidth={0.8} />
      ))}
      {major.map((t: number) => (
        <line key={`M${t}`} x1={x(t)} x2={x(t)} y1={box.top} y2={box.bottom} stroke="#EBEBEB" strokeWidth={1.6} />
      ))}
      {terms.map((_: string, k: number) => (
        <line key={`h${k}`} x1={box.left} x2={box.right} y1={y(pos(k))} y2={y(pos(k))} stroke="#EBEBEB" strokeWidth={1.6} />
      ))}
      {full.map((r, k) => {
        const base = y(pos(k));
        const area = d3
          .area<Pt>()
          .x((d) => x(d[0]))
          .y0(base)
          .y1((d) => base - d[1] * unit)
          .curve(d3.curveMonotoneX);
        const line = d3
          .line<Pt>()
          .x((d) => x(d[0]))
          .y((d) => base - d[1] * unit)
          .curve(d3.curveMonotoneX);
        return (
          <g key={k}>
            <path d={area(r) as string} fill={color(pOf(k))} />
            <path d={line(r) as string} fill="none" stroke="#000" strokeWidth={1.7} />
          </g>
        );
      })}
      <rect x={box.left} y={box.top} width={box.right - box.left} height={box.bottom - box.top} fill="none" stroke="#333" strokeWidth={1.2} />
      {terms.map((t: string, k: number) => {
        const lines = minus(t).split('\n');
        const cy = y(pos(k));
        return (
          <g key={`t${k}`}>
            <line x1={box.left - 4} x2={box.left} y1={cy} y2={cy} stroke="#333" strokeWidth={1.2} />
            <text x={box.left - 9.5} y={cy} textAnchor="end" fontSize={fs}>
              {lines.map((s, j) => (
                <tspan key={j} x={box.left - 9.5} y={cy + (j - (lines.length - 1) / 2) * lh} dy="0.36em">
                  {s}
                </tspan>
              ))}
            </text>
          </g>
        );
      })}
      {major.map((t: number) => (
        <g key={`xt${t}`}>
          <line x1={x(t)} x2={x(t)} y1={box.bottom} y2={box.bottom + 4} stroke="#333" strokeWidth={1.2} />
          <text x={x(t)} y={box.bottom + 16.5} dy="0.36em" textAnchor="middle" fontSize={fs}>
            {d3.format('d')(t)}
          </text>
        </g>
      ))}
      <text x={(box.left + box.right) / 2} y={box.bottom + 37} dy="0.36em" textAnchor="middle" fontSize={fs}>
        Enrichment distribution
      </text>
      <text transform={`translate(${yTitleX},${(box.top + box.bottom) / 2}) rotate(-90)`} dy="0.36em" textAnchor="middle" fontSize={16.5}>
        {minus(yTitle)}
      </text>
      {/* p.adjust colour bar */}
      <text x={legendX} y={legendTop - 15} dy="0.36em" fontSize={17}>
        <tspan fontStyle="italic">p</tspan>.adjust
      </text>
      <defs>
        <linearGradient id={`grad-${id}`} x1="0" y1="0" x2="0" y2="1">
          {d3.range(11).map((j) => (
            <stop key={j} offset={j / 10} stopColor={color(pExt[0] + (j / 10) * (pExt[1] - pExt[0]))} />
          ))}
        </linearGradient>
      </defs>
      <rect x={legendX} y={legendTop} width={barW} height={barH} fill={single ? color(pExt[0]) : `url(#grad-${id})`} />
      {legTicks.map((t: number) => (
        <g key={t}>
          <line x1={legendX} x2={legendX + barW / 5} y1={tickY(t)} y2={tickY(t)} stroke="#fff" strokeOpacity={0.8} strokeWidth={1.2} />
          <line x1={legendX + barW - barW / 5} x2={legendX + barW} y1={tickY(t)} y2={tickY(t)} stroke="#fff" strokeOpacity={0.8} strokeWidth={1.2} />
          <text x={legendX + barW + 9.5} y={tickY(t)} dy="0.36em" fontSize={17}>{pFmt(t)}</text>
        </g>
      ))}
    </g>
  );
}

export default function App() {
  return (
    <svg
      width={2858}
      height={3245}
      viewBox="0 0 2858 3245"
      style={{ position: 'absolute', left: 0, top: 0, background: '#fff', display: 'block' }}
      fontFamily={FONT}
    >
      <rect x={0} y={0} width={2858} height={3245} fill="#fff" />
      <text x={0} y={56} fontSize={60}>(A)</text>
      <text x={0} y={1091} fontSize={60}>(B)</text>
      <text x={0} y={1696} fontSize={60}>(C)</text>
      {A_TITLES.map((_, i) => (
        <BoxPlotA key={i} i={i} />
      ))}
      <NoteA />
      {B_TITLES.map((_, i) => (
        <ViolinPlotB key={i} i={i} />
      ))}
      {C_SPECS.map((s) => (
        <RidgePlot key={s.id} spec={s} />
      ))}
    </svg>
  );
}
